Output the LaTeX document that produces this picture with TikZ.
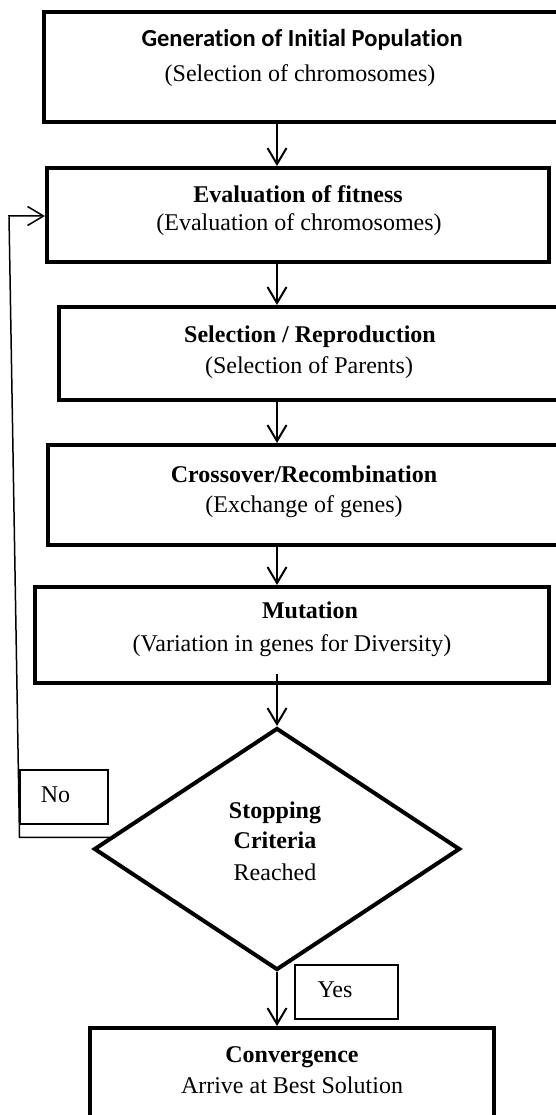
\documentclass[tikz,border=0pt]{standalone}
\usepackage{fontspec}
\setmainfont{Liberation Serif}
\newfontfamily\calfont[RawFeature={-liga}]{Carlito}
\usetikzlibrary{arrows.meta,shapes.geometric}
\begin{document}
\begin{tikzpicture}[x=1pt,y=-1pt,
  box/.style={draw, line width=4pt, inner sep=0pt, rectangle},
  lbl/.style={draw, line width=1.2pt, inner sep=0pt, rectangle},
  txt/.style={inner sep=0pt, anchor=base, font=\fontsize{24pt}{28pt}\selectfont},
  btxt/.style={txt, font=\fontsize{24pt}{28pt}\selectfont\bfseries},
  arr/.style={line width=2pt, -{Straight Barb[length=16pt,width=19pt]}},
  fb/.style={line width=1.5pt, -{Straight Barb[length=16pt,width=19pt]}}]
\useasboundingbox (0,0) rectangle (556,1115);
\clip (0,0) rectangle (556,1115);
% boxes
\node[box, minimum width=526pt, minimum height=110pt] (b1) at (307,67) {};
\node[box, minimum width=502pt, minimum height=94pt] (b2) at (298,215) {};
\node[box, minimum width=511.5pt, minimum height=93pt] (b3) at (314.25,353.5) {};
\node[box, minimum width=522pt, minimum height=100pt] (b4) at (309,495) {};
\node[box, minimum width=514pt, minimum height=96pt] (mut) at (292,635) {};
\node[draw, line width=4pt, shape=diamond, inner sep=0pt, minimum width=366pt, minimum height=242pt] (dia) at (277,849) {};
\node[box, minimum width=404pt, minimum height=102pt] (conv) at (292,1079) {};
\node[lbl, minimum width=88pt, minimum height=54pt] (no) at (64,797) {};
\node[lbl, minimum width=103pt, minimum height=54pt] (yes) at (346.5,992) {};
% texts
\node[txt, font=\fontsize{24.5pt}{28pt}\calfont\bfseries] (t1a) at (302,47) {Generation of Initial Population};
\node[txt] (t1b) at (300,82) {(Selection of chromosomes)};
\node[btxt] (t2a) at (298,203) {Evaluation of fitness};
\node[txt] (t2b) at (299,230) {(Evaluation of chromosomes)};
\node[btxt] (t3a) at (310,342) {Selection / Reproduction};
\node[txt] (t3b) at (309,373) {(Selection of Parents)};
\node[btxt] (t4a) at (304,482) {Crossover/Recombination};
\node[txt] (t4b) at (304,512) {(Exchange of genes)};
\node[btxt] (t5a) at (310,618) {Mutation};
\node[txt] (t5b) at (292,651) {(Variation in genes for Diversity)};
\node[btxt] (t6a) at (275,818) {Stopping};
\node[btxt] (t6b) at (275,848) {Criteria};
\node[txt] (t6c) at (275,880) {Reached};
\node[txt] (tno) at (55.5,802) {No};
\node[txt] (tyes) at (335,997) {Yes};
\node[btxt] (t7a) at (292,1062) {Convergence};
\node[txt] (t7b) at (292,1093) {Arrive at Best Solution};
% connectors
\draw[arr] (b1.south -| dia.north) -- (b2.north -| dia.north);
\draw[arr] (b2.south -| dia.north) -- (b3.north -| dia.north);
\draw[arr] (b3.south -| dia.north) -- (b4.north -| dia.north);
\draw[arr] (b4.south -| dia.north) -- (mut.north -| dia.north);
\draw[arr] ([yshift=11pt]mut.south -| dia.north) -- (dia.north);
\draw[arr] (dia.south) -- (conv.north -| dia.south);
\coordinate (fb1) at (19.5,838);
\coordinate (fb2) at (9,216);
\draw[fb] (dia.176) -- (fb1 |- dia.176) -- (fb2) -- (fb2 -| b2.west);
\end{tikzpicture}
\end{document}
